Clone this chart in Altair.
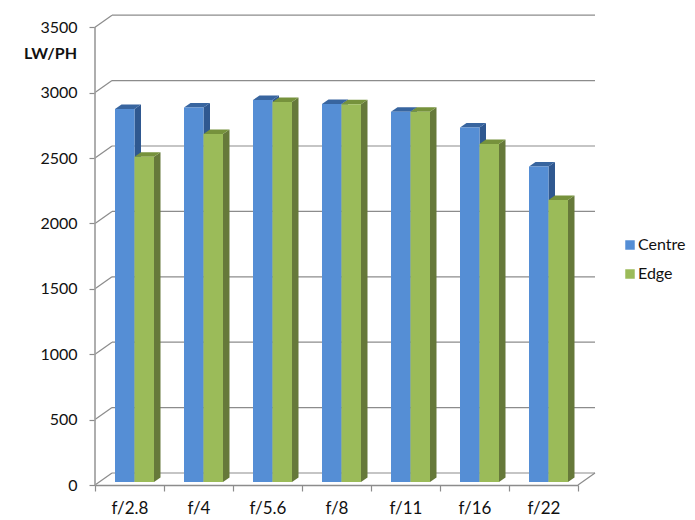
import altair as alt
import pandas as pd

categories = ["f/2.8", "f/4", "f/5.6", "f/8", "f/11", "f/16", "f/22"]
centre = [2851, 2864, 2920, 2890, 2831, 2711, 2412]
edge = [2487, 2660, 2905, 2888, 2831, 2584, 2156]
y_ticks = [0, 500, 1000, 1500, 2000, 2500, 3000, 3500]

PX_X = 69.0            # pixels per category
PX_Y = 65.4 / 500      # pixels per unit
W, H = 500, 470
x_max = W / PX_X
y_max = H / PX_Y
wall_dx, wall_dy = 17 / PX_X, 12 / PX_Y
bar_dx, bar_dy = 6.5 / PX_X, 4.5 / PX_Y
base = 3 / PX_Y
bar_w = 19.5 / PX_X
bar_start = 20 / PX_X

grid_col = "#8c8c8c"
xs = alt.Scale(domain=[0, x_max], nice=False, zero=False)
ys = alt.Scale(domain=[0, y_max], nice=False, zero=False)
y_axis = alt.Axis(
    values=y_ticks, format="d", grid=False, domain=False, tickColor=grid_col, tickSize=6, tickWidth=1.2,
    labelFont="Lato", labelFontSize=16, labelColor="#111111", labelPadding=12,
    title="LW/PH", titleAngle=0, titleFont="Lato", titleFontSize=16, titleFontWeight="bold",
    titleColor="#111111", titleX=-45, titleY=38, titleAlign="center", titleBaseline="middle",
)
X = lambda f="x": alt.X(f"{f}:Q", scale=xs, axis=None)
Y = lambda f="y": alt.Y(f"{f}:Q", scale=ys, axis=y_axis)
Y2 = lambda f="y2": alt.Y2(f"{f}:Q")

# structure lines
lines = []
n = 0
for v in y_ticks:
    lines += [dict(k=n, x=wall_dx, y=v + wall_dy), dict(k=n, x=7 + wall_dx, y=v + wall_dy)]
    n += 1
    lines += [dict(k=n, x=0, y=v), dict(k=n, x=wall_dx, y=v + wall_dy)]
    n += 1
lines += [dict(k=n, x=7, y=0), dict(k=n, x=7 + wall_dx, y=wall_dy)]
walls = alt.Chart(pd.DataFrame(lines)).mark_line(color=grid_col, strokeWidth=1.2).encode(
    x=X(), y=Y(), detail="k:N"
)
left_axis = alt.Chart(pd.DataFrame({"x": [0, 0], "y": [0, 3500]})).mark_line(
    color="#a0a0a0", strokeWidth=1.7
).encode(x=X(), y=Y())

# axis carrier: band x scale with ticks at the band edges
axis_layer = alt.Chart(pd.DataFrame({"cat": categories, "v": y_ticks[:7]})).mark_bar(opacity=0).encode(
    x=alt.X("cat:N", sort=categories,
            scale=alt.Scale(range=[0, 7 * PX_X], paddingInner=0, paddingOuter=0),
            axis=alt.Axis(title=None, labelAngle=0, tickBand="extent", domainColor=grid_col,
                          domainWidth=1.4, tickColor=grid_col, tickSize=6, tickWidth=1.2,
                          labelFont="Lato", labelFontSize=17, labelColor="#111111",
                          labelPadding=9, grid=False)),
    y=Y("v"),
)

layers = [walls, left_axis, axis_layer]
series = [
    ("Centre", centre, 0, "#558ed5", "#38659f", "#2f5890"),
    ("Edge", edge, 1, "#9bbb59", "#76923c", "#66793a"),
]
for name, vals, pos, front, top, side in series:
    fr, sd, tp = [], [], []
    for i, v in enumerate(vals):
        xl = i + bar_start + pos * bar_w
        xr = xl + bar_w
        t = v + base
        fr.append(dict(x=xl, x2=xr, y=base, y2=t, series=name))
        sd += [dict(k=i, x=xr, y=t, y2=base), dict(k=i, x=xr + bar_dx, y=t + bar_dy, y2=base + bar_dy)]
        tp += [dict(k=i, x=xl, y=t, y2=t), dict(k=i, x=xl + bar_dx, y=t + bar_dy, y2=t),
               dict(k=i, x=xr, y=t + bar_dy, y2=t), dict(k=i, x=xr + bar_dx, y=t + bar_dy, y2=t + bar_dy)]
    layers.append(alt.Chart(pd.DataFrame(sd)).mark_area(color=side, line=False).encode(
        x=X(), y=Y(), y2=Y2(), detail="k:N"))
    layers.append(alt.Chart(pd.DataFrame(tp)).mark_area(color=top, line=False).encode(
        x=X(), y=Y(), y2=Y2(), detail="k:N"))
    layers.append(alt.Chart(pd.DataFrame(fr)).mark_rect().encode(
        x=X(), x2=alt.X2("x2:Q"), y=Y(), y2=Y2(),
        color=alt.Color("series:N", scale=alt.Scale(domain=["Centre", "Edge"], range=["#558ed5", "#9bbb59"]),
                        legend=alt.Legend(title=None, orient="none", legendX=527, legendY=222,
                                          symbolType="square", symbolSize=90, symbolStrokeWidth=0,
                                          labelFont="Lato", labelFontSize=16, labelColor="#111111",
                                          rowPadding=13, labelOffset=0, symbolOpacity=1, labelLimit=80))))

chart = alt.layer(*layers).resolve_scale(x="independent").properties(
    width=W, height=H,
    padding={"left": 87, "top": 7, "right": 92, "bottom": 31},
    autosize=alt.AutoSizeParams(type="none"),
).configure_view(stroke=None)

chart.save("out.html", embed_options={"renderer": "svg", "actions": False})
